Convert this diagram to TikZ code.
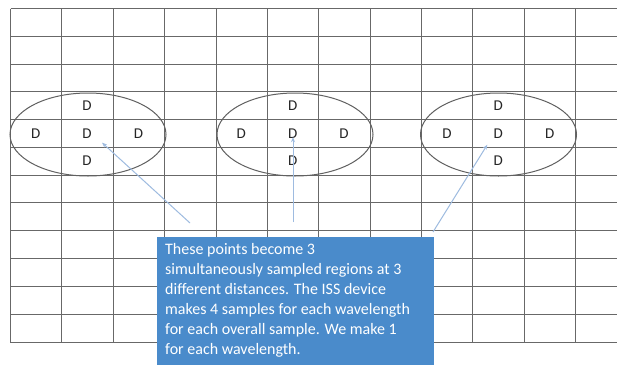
\documentclass[tikz,border=0pt]{standalone}
\usepackage{fontspec}
\setmainfont{Carlito}
\usetikzlibrary{shapes.geometric,arrows.meta}
\definecolor{gridgray}{HTML}{686868}
\definecolor{ellgray}{HTML}{606060}
\definecolor{boxblue}{HTML}{4A8BCB}
\definecolor{arrowblue}{HTML}{9EBBE0}
\tikzset{
  gridline/.style={draw=gridgray, line width=1.5pt},
  dlabel/.style={font=\fontsize{15}{16}\selectfont, text=black!85, inner sep=1pt},
  region/.style={draw=ellgray, line width=1pt, ellipse, minimum width=156pt, minimum height=83pt, inner sep=0pt},
  notebox/.style={fill=boxblue, draw=none, anchor=north west, minimum width=277pt, minimum height=140pt, inner sep=0pt},
  notetext/.style={text=white, align=left, anchor=north west, inner sep=0pt, font=\fontsize{16}{20}\selectfont},
  pointer/.style={draw=arrowblue, line width=1pt, -{Stealth[length=5pt,width=4pt]}}
}
\begin{document}
\begin{tikzpicture}[x=1pt,y=-1pt]
\useasboundingbox (0,0) rectangle (617,364);
\fill[white] (0,0) rectangle (617,364);
% grid
\foreach \gx in {10.5,61.5,113.5,164.5,216.5,267.5,318.5,370.5,421.5,472.5,524.5,575.5}{
  \draw[gridline] (\gx,8.5) -- (\gx,342.5);
}
\foreach \gy in {8.5,36.5,64.5,91.5,119.5,147.5,175.5,202.5,230.5,258.5,286.5,314.5,342.5}{
  \draw[gridline] (10.5,\gy) -- (617,\gy);
}
% region 1
\node[dlabel] (d1t) at (87.1,105.4) {D};
\node[dlabel] (d1l) at (35.7,133.2) {D};
\node[dlabel] (d1c) at (87.1,133.2) {D};
\node[dlabel] (d1r) at (138.5,133.2) {D};
\node[dlabel] (d1b) at (87.1,161.1) {D};
\node[region] (e1) at (88,134.5) {};
% region 2
\node[dlabel] (d2t) at (292.7,105.4) {D};
\node[dlabel] (d2l) at (241.3,133.2) {D};
\node[dlabel] (d2c) at (292.7,133.2) {D};
\node[dlabel] (d2r) at (344.1,133.2) {D};
\node[dlabel] (d2b) at (292.7,161.1) {D};
\node[region] (e2) at (295,134.5) {};
% region 3
\node[dlabel] (d3t) at (498.3,105.4) {D};
\node[dlabel] (d3l) at (446.9,133.2) {D};
\node[dlabel] (d3c) at (498.3,133.2) {D};
\node[dlabel] (d3r) at (549.7,133.2) {D};
\node[dlabel] (d3b) at (498.3,161.1) {D};
\node[region] (e3) at (498.5,134.5) {};
% note box
\node[notebox] (box) at (157,237) {};
\node[notetext] (note) at (165,243) {These points become 3\\simultaneously sampled regions at 3\\different distances. The ISS device\\makes 4 samples for each wavelength\\for each overall sample. We make 1\\for each wavelength.};
% pointers
\coordinate (s1) at (190,223);
\coordinate (s2) at (293,222);
\coordinate (s3) at (433,232);
\draw[pointer] (s1) -- ([shift={(15,9.5)}]d1c.center);
\draw[pointer] (s2) -- ([shift={(0.3,4)}]d2c.center);
\draw[pointer] (s3) -- ([shift={(-11,11.5)}]d3c.center);
\end{tikzpicture}
\end{document}
